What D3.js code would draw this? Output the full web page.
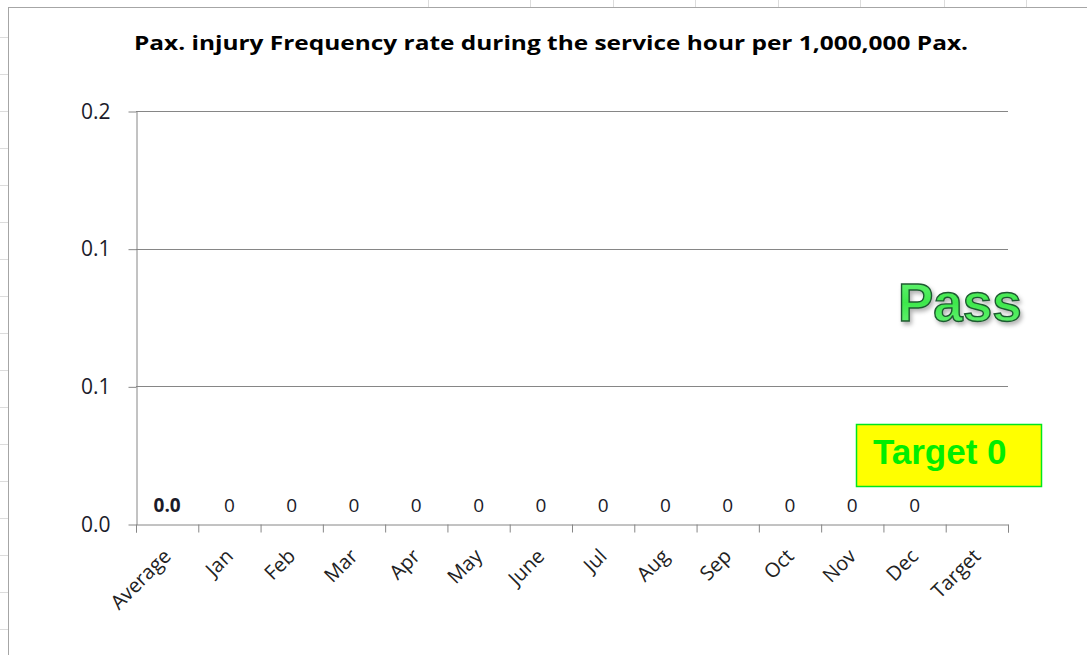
<!DOCTYPE html>
<html>
<head>
    <meta charset="utf-8">
    <title>Pax. injury Frequency rate</title>
    <script type="text/javascript" src="https://cdn.jsdelivr.net/npm/d3@7"></script>
    <style type="text/css">
        html, body {
            margin: 0;
            background: #fff;
        }

        svg {
            display: block;
        }

        svg text {
            font-family: "Open Sans", "Noto Sans", sans-serif;
        }

        .grid line {
            stroke: #868686;
        }

        .axis path, .axis line {
            stroke: #868686;
        }
    </style>
</head>

<body>

<script type="text/javascript">
    var w = 1087, h = 655;

    var categories = ["Average", "Jan", "Feb", "Mar", "Apr", "May", "June", "Jul",
        "Aug", "Sep", "Oct", "Nov", "Dec", "Target"];
    var values = [0, 0, 0, 0, 0, 0, 0, 0, 0, 0, 0, 0, 0, null];
    var valueLabels = ["0.0", "0", "0", "0", "0", "0", "0", "0", "0", "0", "0", "0", "0", ""];
    var yTicks = [0, 0.05, 0.1, 0.15];
    var sheetRows = [37, 74, 111, 148, 185, 222, 259, 296, 333, 370, 407, 444, 481, 518, 555, 592, 629];
    var sheetCols = [428, 530, 613, 695, 778, 860, 944, 1026];

    var margin = {top: 111, left: 136, right: 79, bottom: 131};

    var svg = d3.select("body")
            .append("svg")
                .attr("width", w)
                .attr("height", h);

    // chart frame + the spreadsheet marks around it
    svg.append("line")
        .attr("x1", 8.5).attr("x2", 8.5).attr("y1", 7).attr("y2", h)
        .attr("stroke", "#a6a6a6");
    svg.append("line")
        .attr("x1", 8).attr("x2", w).attr("y1", 7.5).attr("y2", 7.5)
        .attr("stroke", "#a6a6a6");
    svg.selectAll(".row-mark")
        .data(sheetRows)
        .enter().append("line")
        .attr("x1", 0).attr("x2", 8)
        .attr("y1", function (d) {return d + 0.5;})
        .attr("y2", function (d) {return d + 0.5;})
        .attr("stroke", "#dcdcdc");
    svg.selectAll(".col-mark")
        .data(sheetCols)
        .enter().append("line")
        .attr("x1", function (d) {return d + 0.5;})
        .attr("x2", function (d) {return d + 0.5;})
        .attr("y1", 0).attr("y2", 7)
        .attr("stroke", "#dcdcdc");

    var x = d3.scaleBand()
            .domain(categories)
            .range([margin.left, w - margin.right]);

    var y = d3.scaleLinear()
            .domain([0, 0.15])
            .range([h - margin.bottom, margin.top]);

    function fmt(v) {
        return (Math.round(v * 10) / 10).toFixed(1);
    }

    // horizontal gridlines
    svg.append("g")
        .attr("class", "grid")
        .selectAll("line")
        .data(yTicks.slice(1))
        .enter().append("line")
        .attr("x1", margin.left)
        .attr("x2", w - margin.right)
        .attr("y1", function (d) {return Math.round(y(d)) + 0.5;})
        .attr("y2", function (d) {return Math.round(y(d)) + 0.5;});

    // y axis
    var yAxis = svg.append("g")
        .attr("class", "axis")
        .attr("transform", "translate(" + (margin.left + 0.5) + ",0.5)")
        .call(d3.axisLeft(y).tickValues(yTicks).tickFormat(fmt).tickSize(8).tickSizeOuter(0).tickPadding(18));
    yAxis.attr("font-family", null).attr("font-size", null);
    yAxis.selectAll("text")
        .style("font-size", "21px")
        .attr("fill", "#1b1b2a");

    // x axis
    var xAxis = svg.append("g")
        .attr("class", "axis")
        .attr("transform", "translate(0," + (y(0) + 0.5) + ")")
        .call(d3.axisBottom(x).tickSize(8).tickSizeOuter(8));
    xAxis.attr("font-family", null).attr("font-size", null);
    xAxis.selectAll(".tick line")
        .attr("transform", "translate(" + (-x.bandwidth() / 2 + 0.5) + ",0)");
    xAxis.append("line")
        .attr("x1", w - margin.right + 0.5).attr("x2", w - margin.right + 0.5)
        .attr("y1", 0).attr("y2", 8)
        .attr("stroke", "#868686");
    xAxis.selectAll(".tick text")
        .style("font-size", "20px")
        .attr("fill", "#222")
        .attr("text-anchor", "end")
        .attr("transform", "translate(0,28) rotate(-45)")
        .attr("dy", "0.35em")
        .attr("y", 0)
        .attr("x", 0);

    // data labels
    svg.selectAll(".value-label")
        .data(categories.map(function (c, i) {return {c: c, v: values[i], t: valueLabels[i]};})
            .filter(function (d) {return d.v !== null;}))
        .enter().append("text")
        .attr("class", "value-label")
        .attr("x", function (d) {return x(d.c) + x.bandwidth() / 2;})
        .attr("y", function (d) {return y(d.v) - 12;})
        .attr("text-anchor", "middle")
        .style("font-size", "19px")
        .style("font-weight", function (d, i) {return i === 0 ? "bold" : "normal";})
        .attr("fill", "#1b1b2a")
        .text(function (d) {return d.t;});

    // title
    svg.append("text")
        .attr("x", 551)
        .attr("y", 50)
        .attr("text-anchor", "middle")
        .attr("textLength", 834)
        .attr("lengthAdjust", "spacingAndGlyphs")
        .style("font-size", "20px")
        .style("font-weight", "bold")
        .attr("fill", "#000")
        .text("Pax. injury Frequency  rate during the service  hour per 1,000,000  Pax.");

    // "Pass" word art
    var defs = svg.append("defs");
    var grad = defs.append("linearGradient")
        .attr("id", "passGrad")
        .attr("x1", 0).attr("y1", 0).attr("x2", 0).attr("y2", 1);
    grad.append("stop").attr("offset", "0%").attr("stop-color", "#6cf57a");
    grad.append("stop").attr("offset", "50%").attr("stop-color", "#3ee84c");
    grad.append("stop").attr("offset", "100%").attr("stop-color", "#6cf57a");
    var shadow = defs.append("filter").attr("id", "passShadow")
        .attr("x", "-10%").attr("y", "-10%").attr("width", "130%").attr("height", "140%");
    shadow.append("feDropShadow")
        .attr("dx", 2).attr("dy", 3).attr("stdDeviation", 2)
        .attr("flood-color", "#000").attr("flood-opacity", 0.3);

    svg.append("text")
        .attr("x", 898)
        .attr("y", 321)
        .style("font-family", "'Liberation Sans', Arial, sans-serif")
        .style("font-size", "53px")
        .style("font-weight", "bold")
        .attr("fill", "url(#passGrad)")
        .attr("stroke", "#1f5a30")
        .attr("stroke-width", 1.4)
        .attr("filter", "url(#passShadow)")
        .text("Pass");

    // target box
    svg.append("rect")
        .attr("x", 856.5)
        .attr("y", 424.5)
        .attr("width", 185)
        .attr("height", 62)
        .attr("fill", "#ffff00")
        .attr("stroke", "#00e61e")
        .attr("stroke-width", 1.5);
    svg.append("text")
        .attr("x", 873)
        .attr("y", 464)
        .style("font-family", "'Liberation Sans', Arial, sans-serif")
        .style("font-size", "35px")
        .style("font-weight", "bold")
        .attr("fill", "#00ee00")
        .text("Target 0");
</script>

</body>
</html>
